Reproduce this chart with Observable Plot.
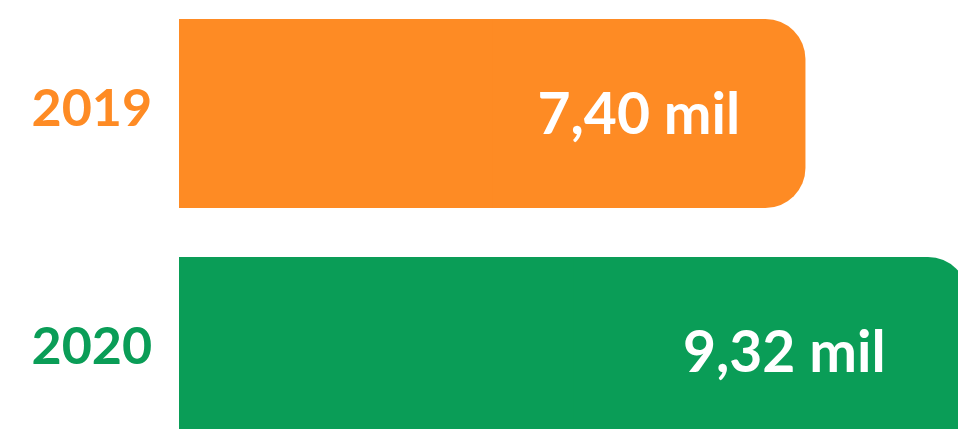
<!DOCTYPE html>
<html>
<head>
<meta charset="utf-8">
<script src="https://cdn.jsdelivr.net/npm/d3@7"></script>
<script src="https://cdn.jsdelivr.net/npm/@observablehq/plot@0.6"></script>
<style>
  html, body { margin: 0; padding: 0; background: #ffffff; }
  svg { display: block; overflow: hidden; }
</style>
</head>
<body>
<div id="chart"></div>
<script>
const years = ["2019", "2020"];
const values = [7.40, 9.32];
const labels = ["7,40 mil", "9,32 mil"];
const colors = ["#FE8B24", "#0A9D57"];

const data = years.map((y, i) => ({year: y, value: values[i], label: labels[i], color: colors[i]}));

const chart = Plot.plot({
  width: 958,
  height: 429,
  marginLeft: 0,
  marginRight: 0,
  marginTop: 0,
  marginBottom: 0,
  style: {fontFamily: "Lato, sans-serif", background: "#ffffff"},
  x: {domain: [0, 9.32], range: [179, 968], axis: null},
  y: {domain: years, range: [18, 447], paddingInner: 0.205, paddingOuter: 0, axis: null},
  color: {type: "identity"},
  marks: [
    Plot.barX(data, {y: "year", x: "value", fill: "color", rx: 40, ry: 40}),
    Plot.barX(data, {y: "year", x: d => d.value / 2, fill: "color"}),
    Plot.text(data, {
      y: "year", text: "year", fill: "color",
      frameAnchor: "left", textAnchor: "start", dx: 31, dy: -5,
      fontSize: 52, fontWeight: 700
    }),
    Plot.text(data, {
      y: "year", x: d => d.value * 0.895, text: "label", fill: "#ffffff",
      textAnchor: "end", dy: 2,
      fontSize: 57, fontWeight: 700
    })
  ]
});
document.getElementById("chart").appendChild(chart);
</script>
</body>
</html>
